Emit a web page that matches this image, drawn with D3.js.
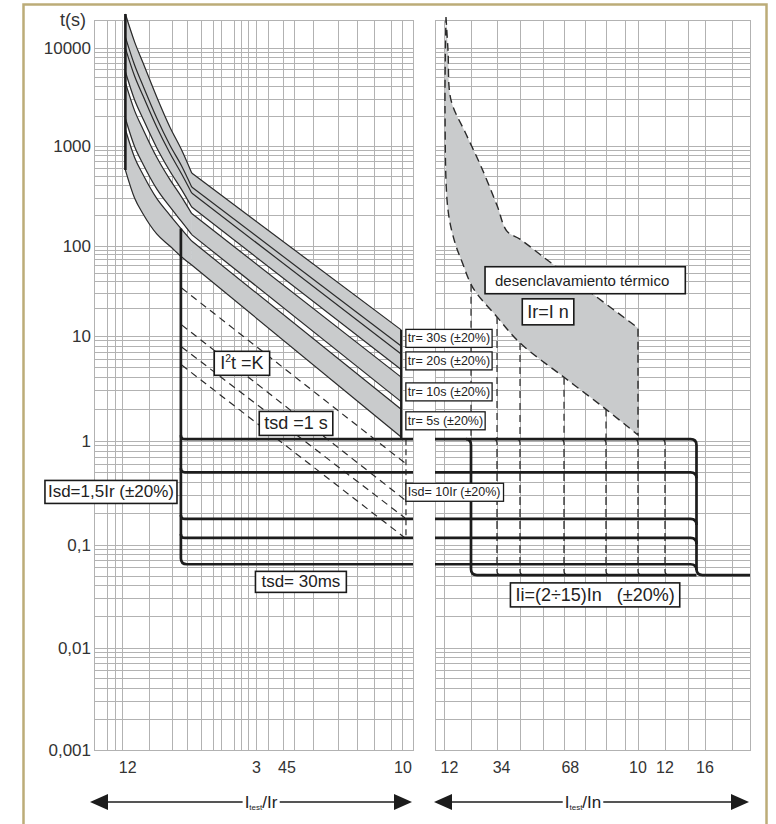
<!DOCTYPE html>
<html>
<head>
<meta charset="utf-8">
<script src="https://cdn.jsdelivr.net/npm/d3@7"></script>
<style>
  body { margin: 0; background: #fff; }
  svg text { font-family: "Liberation Sans", Arial, sans-serif; white-space: pre; }
</style>
</head>
<body>
<svg id="chart" width="776" height="824"></svg>
<script>
// ---------- values ----------
const yTickValues = [10000, 1000, 100, 10, 1, 0.1, 0.01, 0.001];
const yTickText = ["10000", "1000", "100", "10", "1", "0,1", "0,01", "0,001"];

const leftGridI = [0.88, 0.94, 1, 1.24, 1.5, 1.7, 1.9, 2.1, 2.25, 2.5, 2.65, 2.8, 3, 3.3, 3.75, 4.1, 4.8, 5.9, 6.9, 7.9, 9.1, 10];
const rightGridI = [1, 2, 3, 4, 5, 6, 7, 8, 9, 10, 12, 14, 16, 20];
const leftTickText = ["12", "3", "45", "10"];
const leftTickAt = [1.04, 3, 3.85, 10];
const rightTickText = ["12", "34", "68", "10", "12", "16"];
const rightTickAt = [1.2, 3.2, 6.3, 10, 12, 16];

// long-time bands (Itest/Ir, t in s)
const bandI = [1.02, 1.1, 1.18, 1.32, 1.47, 1.62, 1.76, 9.85];
const band30Upper = [21800, 11510, 7030, 3162, 1563, 912, 537, 11.7];
const band30Lower = [10000, 5180, 3236, 1563, 851, 525, 339, 6.74];
const band20Upper = [12870, 6707, 4093, 1931, 1024, 631, 389, 8.03];
const band20Lower = [5728, 2965, 1890, 962, 562, 366, 245, 4.79];
const band10Upper = [4436, 2296, 1476, 771, 463, 308, 211, 4.06];
const band10Lower = [1908, 989, 658, 373, 247, 175, 130, 2.37];
const band5Upper = [1476, 769, 516, 299, 204, 147, 112, 2.01];
const band5Lower = [575, 302, 209, 132, 100, 75.5, 61.5, 1.09];
const trText = ["tr= 30s (±20%)", "tr= 20s (±20%)", "tr= 10s (±20%)", "tr= 5s (±20%)"];
const trLabelT = [9.57, 5.84, 2.96, 1.57];

// short-time
const isdLeftI = 1.61;
const isdLeftTopT = 150;
const tsdLevels = [1.04, 0.5, 0.178, 0.117, 0.065];
const i2tStartI = 1.62, i2tEndI = 10.17;
const i2tStartT = [34.1, 13.3, 7.86, 5.29];
const i2tEndT = [0.614, 0.271, 0.182, 0.117];
const isd10I = 10.25;

// right panel (Itest/In)
const thermUpperI = [1.074, 1.148, 1.26, 1.815, 2.38, 3, 3.43, 4, 5.33, 10];
const thermUpperT = [20370, 9550, 2944, 1326, 630, 255, 141, 117, 66.4, 12.3];
const thermLowerI = [1.074, 1.037, 1.148, 1.41, 1.67, 2.08, 3, 4, 6.05, 8.05, 10];
const thermLowerT = [20370, 2327, 229, 107, 66.4, 34.1, 16.3, 8.58, 3.98, 1.97, 1.14];
const thermDropI = [2, 3, 4, 6, 8];
const thermDropT = [37, 16.3, 8.6, 4.0, 2.0];
const iiSettings = [2, 3, 4, 6, 8, 10, 12, 15];
const iiBottomT = 0.051;

// ---------- scales ----------
const svg = d3.select("#chart");
const yScale = d3.scaleLog()
  .domain([0.001, 0.01, 0.1, 1, 10, 100, 1000, 10000, 19000])
  .range([750, 648, 545, 441, 336, 246, 146, 48, 20]);
const xLeft = d3.scaleLog().domain([0.788, 10.86]).range([94, 413]);
const xRight = d3.scaleLinear()
  .domain([0.67, 1, 2, 3, 4, 5, 6, 7, 8, 9, 10, 12, 14, 16, 20, 22.7])
  .range([435, 444, 471, 497, 520, 543, 564, 585, 606, 625, 638, 665, 688, 705, 732, 750]);
const ends = s => [s.range()[0], s.range()[s.range().length - 1]];

const ink = "#1c1c1c";
const gray = "#c9cbcc";

// frame
svg.append("rect")
  .attr("x", 23.5).attr("y", 4.5).attr("width", 743).attr("height", 850)
  .attr("fill", "#fff").attr("stroke", "#bcac78").attr("stroke-width", 2.5);

// ---------- grids ----------
function drawGrid(x, xValues) {
  const g = svg.append("g").attr("stroke", "#b2b2b2").attr("stroke-width", 1)
    .attr("fill", "none").attr("shape-rendering", "crispEdges");
  const [x0, x1] = ends(x);
  const yb = yScale(0.001), yt = yScale(19000);
  yScale.ticks().filter(v => v <= 19000).forEach(v => {
    g.append("line").attr("x1", x0).attr("x2", x1).attr("y1", yScale(v)).attr("y2", yScale(v));
  });
  xValues.forEach(v => {
    g.append("line").attr("x1", x(v)).attr("x2", x(v)).attr("y1", yt).attr("y2", yb);
  });
  g.append("rect").attr("x", x0).attr("y", yt).attr("width", x1 - x0).attr("height", yb - yt);
}
drawGrid(xLeft, leftGridI);
drawGrid(xRight, rightGridI);

// axis texts
yTickValues.forEach((v, i) => {
  svg.append("text").attr("x", 91).attr("y", yScale(v)).attr("dy", "0.35em")
    .attr("text-anchor", "end").attr("font-size", 17).attr("fill", "#333").text(yTickText[i]);
});
svg.append("text").attr("x", 73).attr("y", 26).attr("text-anchor", "middle")
  .attr("font-size", 18).attr("fill", "#333").text("t(s)");
leftTickText.forEach((s, i) => {
  svg.append("text").attr("x", xLeft(leftTickAt[i])).attr("y", 773).attr("text-anchor", "middle")
    .attr("font-size", 16).attr("fill", "#333").text(s);
});
rightTickText.forEach((s, i) => {
  svg.append("text").attr("x", xRight(rightTickAt[i])).attr("y", 773).attr("text-anchor", "middle")
    .attr("font-size", 16).attr("fill", "#333").text(s);
});

// rounded polyline through pixel corners
function stepPath(pts, r) {
  let d = `M${pts[0][0]},${pts[0][1]}`;
  for (let i = 1; i < pts.length - 1; i++) {
    const [px, py] = pts[i - 1], [cx, cy] = pts[i], [nx, ny] = pts[i + 1];
    const l1 = Math.hypot(cx - px, cy - py), l2 = Math.hypot(nx - cx, ny - cy);
    const r1 = Math.min(r, l1), r2 = Math.min(r, l2);
    d += `L${cx - (cx - px) / l1 * r1},${cy - (cy - py) / l1 * r1}`;
    d += `Q${cx},${cy} ${cx + (nx - cx) / l2 * r2},${cy + (ny - cy) / l2 * r2}`;
  }
  const last = pts[pts.length - 1];
  return d + `L${last[0]},${last[1]}`;
}

// ---------- left panel: long-time bands ----------
const bands = [[band30Upper, band30Lower], [band20Upper, band20Lower], [band10Upper, band10Lower], [band5Upper, band5Lower]];
const knee = 6;
const areaGen = d3.area().x(d => xLeft(d.I)).y0(d => yScale(d.lo)).y1(d => yScale(d.hi));
const gBands = svg.append("g");
bands.forEach(([up, lo]) => {
  const pts = bandI.map((I, i) => ({ I, hi: up[i], lo: lo[i] }));
  gBands.append("path").datum(pts.slice(0, knee + 1))
    .attr("d", areaGen.curve(d3.curveMonotoneX)).attr("fill", gray).attr("stroke", gray).attr("stroke-width", 0.6);
  gBands.append("path").datum(pts.slice(knee))
    .attr("d", areaGen.curve(d3.curveLinear)).attr("fill", gray).attr("stroke", gray).attr("stroke-width", 0.6);
});
const edgeGen = d3.line().x(d => xLeft(d[0])).y(d => yScale(d[1]));
bands.flat().forEach(edge => {
  const pts = bandI.map((I, i) => [I, edge[i]]);
  gBands.append("path").attr("d", edgeGen.curve(d3.curveMonotoneX)(pts.slice(0, knee + 1)))
    .attr("fill", "none").attr("stroke", "#2a2a2a").attr("stroke-width", 1.2);
  gBands.append("path").attr("d", edgeGen.curve(d3.curveLinear)(pts.slice(knee)))
    .attr("fill", "none").attr("stroke", "#2a2a2a").attr("stroke-width", 1.2);
});
// start and end verticals of the band group
svg.append("line")
  .attr("x1", xLeft(bandI[0])).attr("x2", xLeft(bandI[0]))
  .attr("y1", yScale(band30Upper[0])).attr("y2", yScale(band5Lower[0]))
  .attr("stroke", ink).attr("stroke-width", 2.6);
svg.append("line")
  .attr("x1", xLeft(bandI[7])).attr("x2", xLeft(bandI[7]))
  .attr("y1", yScale(band30Upper[7])).attr("y2", yScale(tsdLevels[0]))
  .attr("stroke", ink).attr("stroke-width", 2.2);

// I2t = K dashed lines
i2tStartT.forEach((t0, i) => {
  svg.append("line")
    .attr("x1", xLeft(i2tStartI)).attr("y1", yScale(t0))
    .attr("x2", xLeft(i2tEndI)).attr("y2", yScale(i2tEndT[i]))
    .attr("stroke", "#2a2a2a").attr("stroke-width", 1.2).attr("stroke-dasharray", "7,5");
});
svg.append("line")
  .attr("x1", xLeft(isd10I)).attr("x2", xLeft(isd10I))
  .attr("y1", yScale(tsdLevels[0])).attr("y2", yScale(tsdLevels[3]))
  .attr("stroke", "#2a2a2a").attr("stroke-width", 1.2).attr("stroke-dasharray", "6,4");

// short-time steps (left)
const xi = xLeft(isdLeftI), xEndL = ends(xLeft)[1];
tsdLevels.forEach((t, i) => {
  const y = yScale(t);
  const pts = i === tsdLevels.length - 1
    ? [[xi, yScale(isdLeftTopT)], [xi, y], [xEndL, y]]
    : [[xi, y - 4], [xi, y], [xEndL, y]];
  svg.append("path").attr("d", stepPath(pts, i === tsdLevels.length - 1 ? 6 : 4))
    .attr("fill", "none").attr("stroke", ink).attr("stroke-width", 2.7);
});

// ---------- right panel ----------
const thermLine = d3.line().x(d => xRight(d[0])).y(d => yScale(d[1])).curve(d3.curveCatmullRom.alpha(0.5));
const upperPts = thermUpperI.map((v, i) => [v, thermUpperT[i]]);
const lowerPts = thermLowerI.map((v, i) => [v, thermLowerT[i]]).reverse();
svg.append("path")
  .attr("d", thermLine(upperPts) + "L" + thermLine(lowerPts).slice(1) + "Z")
  .attr("fill", gray).attr("stroke", "#2a2a2a").attr("stroke-width", 1.4).attr("stroke-dasharray", "8,5");
thermDropI.forEach((v, i) => {
  svg.append("line").attr("x1", xRight(v)).attr("x2", xRight(v))
    .attr("y1", yScale(thermDropT[i])).attr("y2", yScale(tsdLevels[0]))
    .attr("stroke", "#2a2a2a").attr("stroke-width", 1.2).attr("stroke-dasharray", "7,5");
});

const [x0R, x1R] = ends(xRight);
const xMax = xRight(iiSettings[iiSettings.length - 1]), xMin = xRight(iiSettings[0]);
const yTop = yScale(tsdLevels[0]), yBot = yScale(iiBottomT);
// dashed intermediate Ii settings
iiSettings.slice(1, -1).forEach(v => {
  const x = xRight(v);
  svg.append("path").attr("d", stepPath([[x - 4, yTop], [x, yTop], [x, yBot], [x + 4, yBot]], 4))
    .attr("fill", "none").attr("stroke", "#2a2a2a").attr("stroke-width", 1.3).attr("stroke-dasharray", "8,4");
});
tsdLevels.forEach((t, i) => {
  const y = yScale(t);
  const pts = i === 0
    ? [[x0R, y], [xMax, y], [xMax, yBot], [x1R, yBot]]
    : [[x0R, y], [xMax, y], [xMax, y + 6]];
  svg.append("path").attr("d", stepPath(pts, 6))
    .attr("fill", "none").attr("stroke", ink).attr("stroke-width", 2.7);
});
svg.append("path").attr("d", stepPath([[xMin - 5, yTop], [xMin, yTop], [xMin, yBot], [xMax, yBot]], 6))
  .attr("fill", "none").attr("stroke", ink).attr("stroke-width", 2.7);

// ---------- boxed labels ----------
function labelBox(x, y, parts, size, opts = {}) {
  const anchor = opts.anchor || "middle";
  const padL = opts.padL ?? 5, padR = opts.padR ?? padL, padY = opts.padY ?? 3;
  const g = svg.append("g");
  const rect = g.append("rect");
  const t = g.append("text")
    .attr("x", anchor === "start" ? x + padL : x).attr("y", y + size * 0.35)
    .attr("font-size", size).attr("text-anchor", anchor).attr("fill", "#222");
  let shift = 0;
  parts.forEach(p => {
    const [s, kind] = Array.isArray(p) ? p : [p];
    const target = kind === "sup" ? -size * 0.38 : kind === "sub" ? size * 0.22 : 0;
    t.append("tspan").attr("dy", target - shift).attr("font-size", kind ? size * 0.58 : size).text(s);
    shift = target;
  });
  const b = t.node().getBBox();
  rect.attr("x", b.x - padL).attr("y", b.y - padY)
    .attr("width", b.width + padL + padR).attr("height", b.height + 2 * padY)
    .attr("fill", "#fff").attr("stroke", "#1a1a1a").attr("stroke-width", opts.sw || 1.6);
}

labelBox(xLeft(2.66), yScale(5.53), ["I", ["2", "sup"], "t =K"], 18, { padL: 6, padY: 2 });
labelBox(xLeft(4.15), yScale(1.48), ["tsd =1 s"], 18, { padL: 5, padY: 2 });
labelBox(xLeft(0.906), yScale(0.327), ["Isd=1,5Ir (±20%)"], 17, { padL: 3, padY: 2 });
labelBox(xLeft(4.32), yScale(0.0443), ["tsd= 30ms"], 17, { padL: 6, padY: 1 });
trText.forEach((s, i) => {
  labelBox(xLeft(10.24), yScale(trLabelT[i]), [s], 12.5, { anchor: "start", padL: 2, padR: 2, padY: 2, sw: 1.3 });
});
labelBox(xLeft(10.24), yScale(0.324), ["Isd= 10Ir (±20%)"], 12.5, { anchor: "start", padL: 2, padR: 3, padY: 2, sw: 1.3 });
labelBox(xRight(2.54), yScale(41.4), ["desenclavamiento térmico"], 15, { anchor: "start", padL: 10, padR: 16, padY: 5 });
labelBox(xRight(5.24), yScale(18.7), ["Ir=I n"], 18, { padL: 5, padY: 3 });
labelBox(xRight(7.48), yScale(0.033), ["Ii=(2÷15)In   (±20%)"], 18, { padL: 5, padY: 2 });

// ---------- bottom arrows ----------
function arrow(xa, xb, labelX, tail) {
  const y = 802, g = svg.append("g");
  g.append("line").attr("x1", xa + 10).attr("x2", xb - 10).attr("y1", y).attr("y2", y)
    .attr("stroke", ink).attr("stroke-width", 1.3);
  g.append("path").attr("d", `M${xa},${y}L${xa + 18},${y - 8}L${xa + 18},${y + 8}Z`).attr("fill", ink);
  g.append("path").attr("d", `M${xb},${y}L${xb - 18},${y - 8}L${xb - 18},${y + 8}Z`).attr("fill", ink);
  const bg = g.append("rect").attr("fill", "#fff");
  const t = g.append("text").attr("x", labelX).attr("y", y + 6).attr("text-anchor", "middle")
    .attr("font-size", 17).attr("fill", "#222");
  t.append("tspan").text("I");
  t.append("tspan").attr("font-size", 8).attr("dy", 2).text("test");
  t.append("tspan").attr("dy", -2).text("/" + tail);
  const b = t.node().getBBox();
  bg.attr("x", b.x - 2).attr("y", b.y).attr("width", b.width + 4).attr("height", b.height);
}
arrow(ends(xLeft)[0] - 4, ends(xLeft)[1] - 1, 261, "Ir");
arrow(x0R - 1, x1R - 1, 583, "In");
</script>
</body>
</html>
